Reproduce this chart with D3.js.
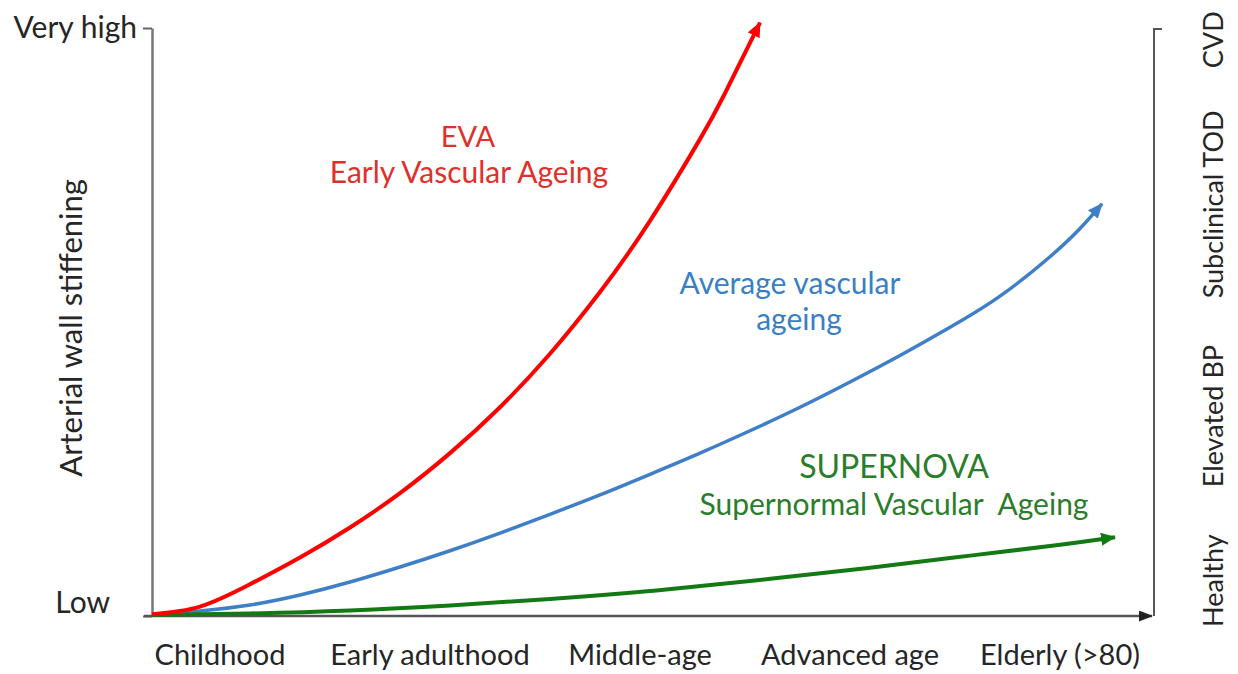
<!DOCTYPE html>
<html>
<head>
<meta charset="utf-8">
<script src="https://cdn.jsdelivr.net/npm/d3@7"></script>
<style>
  body { margin: 0; background: #fff; }
  svg { display: block; font-family: Lato, "Open Sans", sans-serif; }
</style>
</head>
<body>
<svg width="1238" height="674"></svg>
<script>
// life stages along the bottom
const stages = ['Childhood', 'Early adulthood', 'Middle-age', 'Advanced age', 'Elderly (>80)'];

// left axis levels
const levelValues = [0, 100];
const levelLabels = ['Low', 'Very high'];

// right axis clinical stages and where they sit on the stiffening scale
const clinical = ['Healthy', 'Elevated BP', 'Subclinical TOD', 'CVD'];
const clinicalPos = [6, 34, 70, 98];

// curves: age progress (0-100) vs stiffening (0-100)
const evaAge = [0, 4.8, 9.8, 14.8, 19.8, 24.8, 29.8, 34.8, 39.8, 44.8, 49.8, 54.8, 57.3, 60.8];
const evaStiff = [0.3, 1.6, 5.4, 9.95, 15.05, 20.9, 27.7, 35.5, 44.6, 55.1, 67.2, 81.1, 88.9, 100.9];

const avgAge = [0, 4.8, 9.8, 14.8, 19.8, 24.8, 29.8, 34.8, 39.8, 44.8, 49.8, 54.8, 59.8, 64.8, 69.8, 74.8, 79.8, 84.8, 89.8, 92.8, 95];
const avgStiff = [0.17, 0.85, 1.87, 3.57, 5.78, 8.33, 11.1, 14.1, 17.3, 20.6, 24.1, 27.7, 31.5, 35.5, 39.8, 44.3, 49.1, 54.4, 61.1, 65.9, 70.1];

const supAge = [0, 9.8, 19.8, 29.8, 39.8, 49.8, 59.8, 69.8, 79.8, 89.8, 96.3];
const supStiff = [0.17, 0.43, 0.94, 1.79, 2.89, 4.25, 5.95, 7.82, 9.86, 11.9, 13.4];

const svg = d3.select('svg');

const x = d3.scaleLinear().domain([0, 100]).range([152, 1152]);
const y = d3.scaleLinear().domain([0, 100]).range([616, 28]);

// band scale for the stage labels
const xStage = d3.scaleBand().domain(stages).range([115, 1165]);

// arrow markers
const defs = svg.append('defs');
function marker(id, color, w, h) {
  defs.append('marker')
    .attr('id', id)
    .attr('markerUnits', 'userSpaceOnUse')
    .attr('viewBox', `0 ${-h / 2} ${w} ${h}`)
    .attr('markerWidth', w)
    .attr('markerHeight', h)
    .attr('refX', w - 1)
    .attr('refY', 0)
    .attr('orient', 'auto')
    .append('path')
    .attr('d', `M0,${-h / 2}L${w},0L0,${h / 2}Z`)
    .attr('fill', color);
}
marker('arRed', '#ff0000', 15, 13);
marker('arBlue', '#3f7fc8', 15, 13);
marker('arGreen', '#137a13', 15, 13);
marker('arAxis', '#222', 14, 11);

// left axis
const yAxis = d3.axisLeft(y)
  .tickValues(levelValues)
  .tickFormat((d, i) => levelLabels[i])
  .tickSize(9)
  .tickSizeOuter(0);

const gy = svg.append('g').attr('transform', `translate(${x(0)},0)`).call(yAxis);
gy.select('.domain').attr('stroke', '#777').attr('stroke-width', 2.5);
gy.selectAll('.tick line').attr('stroke', '#666').attr('stroke-width', 2);
gy.selectAll('.tick text')
  .attr('fill', '#262626')
  .attr('font-size', 30)
  .attr('font-family', 'Lato, sans-serif')
  .attr('x', (d) => (d === 0 ? -42 : -15))
  .attr('dy', (d) => (d === 0 ? '-0.13em' : '0.32em'));

// y title
svg.append('text')
  .attr('transform', `translate(82,${y(49)}) rotate(-90)`)
  .attr('text-anchor', 'middle')
  .attr('font-size', 31)
  .attr('fill', '#262626')
  .text('Arterial wall stiffening');

// right axis line with top tick
svg.append('path')
  .attr('d', `M${x(100) + 10},${y(100) + 1}H${x(100) + 2}V${y(0)}`)
  .attr('fill', 'none')
  .attr('stroke', '#555')
  .attr('stroke-width', 2);

// bottom axis arrow
svg.append('line')
  .attr('x1', x(0) - 8)
  .attr('x2', x(100))
  .attr('y1', y(0))
  .attr('y2', y(0))
  .attr('stroke', '#555')
  .attr('stroke-width', 2.5)
  .attr('marker-end', 'url(#arAxis)');

// stage labels
svg.append('g')
  .selectAll('text')
  .data(stages)
  .enter()
  .append('text')
  .attr('x', (d) => xStage(d) + xStage.bandwidth() / 2)
  .attr('y', 665)
  .attr('text-anchor', 'middle')
  .attr('font-size', 29)
  .attr('fill', '#262626')
  .text((d) => d);

// clinical labels on the right
svg.append('g')
  .selectAll('text')
  .data(clinical)
  .enter()
  .append('text')
  .attr('transform', (d, i) => `translate(1223,${y(clinicalPos[i])}) rotate(-90)`)
  .attr('text-anchor', 'middle')
  .attr('font-size', 27)
  .attr('fill', '#262626')
  .text((d) => d);

// curves
const line = d3.line()
  .x((d) => x(d[0]))
  .y((d) => y(d[1]))
  .curve(d3.curveNatural);

const series = [
  { age: avgAge, stiff: avgStiff, color: '#3f7fc8', width: 3.5, mk: 'arBlue' },
  { age: supAge, stiff: supStiff, color: '#137a13', width: 4, mk: 'arGreen' },
  { age: evaAge, stiff: evaStiff, color: '#ff0000', width: 4, mk: 'arRed' },
];

svg.append('g')
  .selectAll('path')
  .data(series)
  .enter()
  .append('path')
  .attr('d', (s) => line(s.age.map((a, i) => [a, s.stiff[i]])))
  .attr('fill', 'none')
  .attr('stroke', (s) => s.color)
  .attr('stroke-width', (s) => s.width)
  .attr('marker-end', (s) => `url(#${s.mk})`);

// annotations
const notes = [
  { t: 'EVA', x: 468, y: 147, size: 29, color: '#e0302c' },
  { t: 'Early Vascular Ageing', x: 469, y: 183, size: 30, color: '#e0302c' },
  { t: 'Average vascular', x: 790, y: 294, size: 30, color: '#3a7fc6' },
  { t: 'ageing', x: 799, y: 330, size: 30, color: '#3a7fc6' },
  { t: 'SUPERNOVA', x: 894, y: 478, size: 32, color: '#2a7d2a' },
  { t: 'Supernormal Vascular  Ageing', x: 894, y: 515, size: 30, color: '#2a7d2a' },
];

svg.append('g')
  .selectAll('text')
  .data(notes)
  .enter()
  .append('text')
  .attr('x', (d) => d.x)
  .attr('y', (d) => d.y)
  .attr('text-anchor', 'middle')
  .attr('font-size', (d) => d.size)
  .attr('fill', (d) => d.color)
  .style('white-space', 'pre')
  .text((d) => d.t);
</script>
</body>
</html>
